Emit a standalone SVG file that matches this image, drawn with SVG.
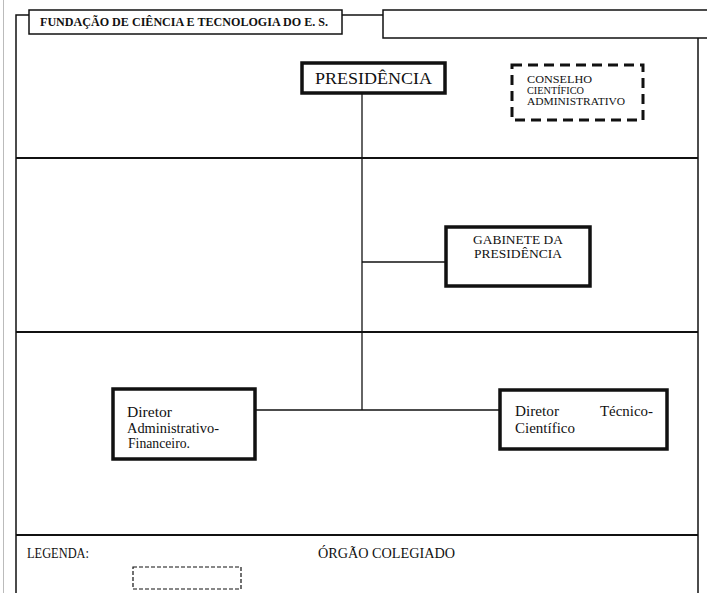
<svg xmlns="http://www.w3.org/2000/svg" width="707" height="593" viewBox="0 0 707 593">
<style>
text{font-family:"Liberation Serif","Times New Roman",serif;fill:#111}
.frame{fill:none;stroke:#111;stroke-width:1.5}
.div{fill:none;stroke:#111;stroke-width:2}
.node{fill:#fff;stroke:#111;stroke-width:3.5}
.dash{fill:none;stroke:#111;stroke-width:3;stroke-dasharray:10 6}
.conn{fill:none;stroke:#111;stroke-width:1.3}
.hdr{fill:#fff;stroke:#111;stroke-width:1.5}
</style>
<rect width="707" height="593" fill="#fff"/>
<line x1="3.5" y1="0" x2="3.5" y2="593" stroke="#bbb" stroke-width="1"/>
<g id="frame">
<path class="frame" d="M29,15 H16 V593"/>
<path class="frame" d="M698,38 V593"/>
<line class="div" x1="16" y1="158" x2="698" y2="158"/>
<line class="div" x1="16" y1="332" x2="698" y2="332"/>
<line class="div" x1="16" y1="535" x2="698" y2="535"/>
</g>
<g id="header">
<rect class="hdr" x="29" y="10" width="313" height="24"/>
<text x="40" y="26" font-size="12" font-weight="bold" textLength="288" lengthAdjust="spacingAndGlyphs">FUNDAÇÃO DE CIÊNCIA E TECNOLOGIA DO E. S.</text>
</g>
<g id="header-blank">
<path class="hdr" d="M707,10 H383 V38 H707"/>
</g>
<g id="connectors">
<line class="conn" x1="342" y1="15" x2="383" y2="15"/>
<line class="conn" x1="362" y1="93" x2="362" y2="410"/>
<line class="conn" x1="362" y1="262" x2="446" y2="262"/>
<line class="conn" x1="255" y1="410" x2="500" y2="410"/>
</g>
<g id="presidencia">
<rect class="node" x="302" y="63" width="143" height="30"/>
<text x="315" y="84" font-size="17" textLength="117" lengthAdjust="spacingAndGlyphs">PRESIDÊNCIA</text>
</g>
<g id="conselho">
<rect class="dash" x="512" y="65" width="131" height="55"/>
<text x="527" y="83" font-size="10.5" textLength="65" lengthAdjust="spacingAndGlyphs">CONSELHO</text>
<text x="527" y="94" font-size="10.5" textLength="57" lengthAdjust="spacingAndGlyphs">CIENTÍFICO</text>
<text x="527" y="105" font-size="10.5" textLength="98" lengthAdjust="spacingAndGlyphs">ADMINISTRATIVO</text>
</g>
<g id="gabinete">
<rect class="node" x="446" y="227" width="144" height="59"/>
<text x="473" y="244" font-size="13" textLength="90" lengthAdjust="spacingAndGlyphs">GABINETE DA</text>
<text x="474" y="258" font-size="13" textLength="88" lengthAdjust="spacingAndGlyphs">PRESIDÊNCIA</text>
</g>
<g id="diretor-af">
<rect class="node" x="113" y="389" width="142" height="70"/>
<text x="127" y="417" font-size="14" textLength="45" lengthAdjust="spacingAndGlyphs">Diretor</text>
<text x="127" y="433" font-size="14" textLength="92" lengthAdjust="spacingAndGlyphs">Administrativo-</text>
<text x="128" y="448" font-size="14" textLength="62" lengthAdjust="spacingAndGlyphs">Financeiro.</text>
</g>
<g id="diretor-tc">
<rect class="node" x="500" y="390" width="167" height="59"/>
<text x="515" y="416" font-size="14" textLength="44" lengthAdjust="spacingAndGlyphs">Diretor</text>
<text x="600" y="416" font-size="14" textLength="53" lengthAdjust="spacingAndGlyphs">Técnico-</text>
<text x="515" y="433" font-size="14" textLength="60" lengthAdjust="spacingAndGlyphs">Científico</text>
</g>
<g id="legenda">
<text x="27" y="558" font-size="14" textLength="62" lengthAdjust="spacingAndGlyphs">LEGENDA:</text>
<rect x="133" y="567" width="108" height="22" fill="none" stroke="#111" stroke-width="1.2" stroke-dasharray="4 2"/>
<text x="318" y="558" font-size="14" textLength="137" lengthAdjust="spacingAndGlyphs">ÓRGÃO COLEGIADO</text>
</g>
</svg>
